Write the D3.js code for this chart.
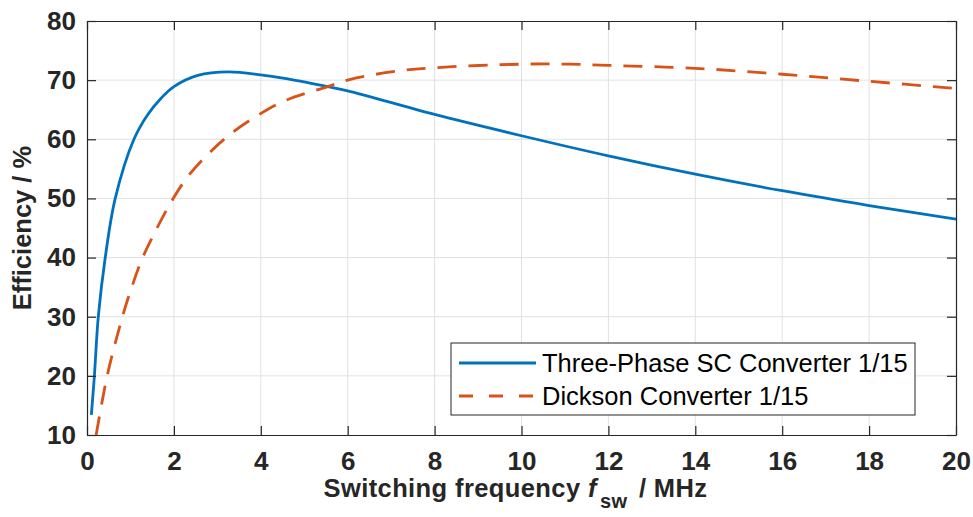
<!DOCTYPE html>
<html>
<head>
<meta charset="utf-8">
<script src="https://cdn.jsdelivr.net/npm/d3@7"></script>
<style>
  html, body { margin: 0; padding: 0; background: #fff; }
  svg { display: block; font-family: "Liberation Sans", Arial, Helvetica, sans-serif; }
</style>
</head>
<body>
<svg id="chart" width="973" height="517"></svg>
<script>
// Switching frequency (MHz) and efficiency (%) of the two converters
const threePhaseFreq = [0.1, 0.17, 0.26, 0.42, 0.65, 1.08, 1.4, 1.7, 2.0, 2.55, 3.25, 4.0, 4.55, 5.54, 6, 8, 10, 12, 14, 16, 18, 20];
const threePhaseEff  = [13.4, 20, 30, 40, 50, 60, 64.2, 66.9, 68.9, 70.8, 71.4, 70.9, 70.3, 68.9, 68.2, 64.2, 60.6, 57.2, 54.1, 51.3, 48.8, 46.5];

const dicksonFreq = [0.21, 0.47, 0.77, 0.94, 1.27, 1.55, 1.92, 2.32, 2.8, 3.32, 3.9, 4.55, 5.54, 6, 7, 8, 10, 11.1, 12, 14, 16, 18, 20];
const dicksonEff  = [10, 20.2, 28.8, 33.0, 39.8, 44.1, 49.2, 53.7, 57.6, 61.0, 63.9, 66.5, 68.9, 70, 71.4, 72.1, 72.7, 72.7, 72.5, 72.0, 71.0, 69.8, 68.6];

const xTicks = [0, 2, 4, 6, 8, 10, 12, 14, 16, 18, 20];
const yTicks = [10, 20, 30, 40, 50, 60, 70, 80];

const seriesNames = ["Three-Phase SC Converter 1/15", "Dickson Converter 1/15"];
const seriesColors = ["#0072BD", "#D95319"];

const margin = { left: 87, top: 21, right: 17, bottom: 82 };
const W = 973, H = 517;
const iw = W - margin.left - margin.right;
const ih = H - margin.top - margin.bottom;

const svg = d3.select("#chart");
const g = svg.append("g").attr("transform", `translate(${margin.left},${margin.top})`);

const x = d3.scaleLinear().domain([0, 20]).range([0, iw]);
const y = d3.scaleLinear().domain([10, 80]).range([ih, 0]);

// grid
g.append("g").selectAll("line").data(xTicks.slice(1, -1)).join("line")
  .attr("x1", d => x(d)).attr("x2", d => x(d)).attr("y1", 0).attr("y2", ih)
  .attr("stroke", "#e1e1e1").attr("stroke-width", 1);
g.append("g").selectAll("line").data(yTicks.slice(1, -1)).join("line")
  .attr("y1", d => y(d)).attr("y2", d => y(d)).attr("x1", 0).attr("x2", iw)
  .attr("stroke", "#e1e1e1").attr("stroke-width", 1);

// curves
g.append("clipPath").attr("id", "plotClip").append("rect")
  .attr("x", 0).attr("y", 0).attr("width", iw).attr("height", ih);

const line = d3.line()
  .x(d => x(d[0])).y(d => y(d[1]))
  .curve(d3.curveCatmullRom.alpha(0.5));

const series = [
  d3.zip(threePhaseFreq, threePhaseEff),
  d3.zip(dicksonFreq, dicksonEff)
];

const curves = g.append("g").attr("clip-path", "url(#plotClip)");
curves.append("path").datum(series[0]).attr("d", line)
  .attr("fill", "none").attr("stroke", seriesColors[0]).attr("stroke-width", 2.8);
curves.append("path").datum(series[1]).attr("d", line)
  .attr("fill", "none").attr("stroke", seriesColors[1]).attr("stroke-width", 2.8)
  .attr("stroke-dasharray", "19,12");

// axes with inward ticks on all four sides
const axisColor = "#262626";
function styleAxis(sel, showText) {
  sel.select(".domain").attr("stroke", axisColor).attr("stroke-width", 1.2);
  sel.selectAll(".tick line").attr("stroke", axisColor).attr("stroke-width", 1.2);
  sel.selectAll(".tick text")
    .attr("fill", axisColor)
    .style("font-size", "26px")
    .style("font-weight", "bold")
    .style("display", showText ? null : "none");
}

g.append("g").attr("transform", `translate(0,${ih})`)
  .call(d3.axisBottom(x).tickValues(xTicks).tickFormat(d3.format("d")).tickSize(-9).tickPadding(17).tickSizeOuter(0))
  .call(s => styleAxis(s, true));
g.append("g")
  .call(d3.axisTop(x).tickValues(xTicks).tickSize(-9).tickSizeOuter(0))
  .call(s => styleAxis(s, false));
g.append("g")
  .call(d3.axisLeft(y).tickValues(yTicks).tickFormat(d3.format("d")).tickSize(-9).tickPadding(11).tickSizeOuter(0))
  .call(s => styleAxis(s, true));
g.append("g").attr("transform", `translate(${iw},0)`)
  .call(d3.axisRight(y).tickValues(yTicks).tickSize(-9).tickSizeOuter(0))
  .call(s => styleAxis(s, false));

// axis labels
const xl = svg.append("text")
  .attr("x", margin.left + iw / 2 - 6).attr("y", 497)
  .attr("text-anchor", "middle")
  .attr("fill", axisColor)
  .style("font-size", "25.5px").style("font-weight", "bold")
  .style("letter-spacing", "0.4px");
xl.append("tspan").text("Switching frequency ");
xl.append("tspan").text("f").style("font-style", "italic");
xl.append("tspan").text("sw").attr("dx", 3).attr("dy", 11).style("font-size", "20px");
xl.append("tspan").text(" / MHz").attr("dx", 4).attr("dy", -11);

svg.append("text")
  .attr("transform", `translate(31,${margin.top + ih / 2}) rotate(-90)`)
  .attr("text-anchor", "middle")
  .attr("fill", axisColor)
  .style("font-size", "25.5px").style("font-weight", "bold")
  .text("Efficiency / %");

// legend
const lg = svg.append("g").attr("transform", "translate(451,343)");
lg.append("rect").attr("x", 0).attr("y", 0).attr("width", 464).attr("height", 72)
  .attr("fill", "#fff").attr("stroke", axisColor).attr("stroke-width", 1);
seriesNames.forEach((name, i) => {
  const cy = 20 + i * 33;
  lg.append("line").attr("x1", 8).attr("x2", 85).attr("y1", cy).attr("y2", cy)
    .attr("stroke", seriesColors[i]).attr("stroke-width", 2.8)
    .attr("stroke-dasharray", i === 1 ? "14,16" : null);
  lg.append("text").attr("x", 91).attr("y", cy + 9)
    .attr("fill", "#000")
    .style("font-size", "25.5px")
    .text(name);
});
</script>
</body>
</html>
